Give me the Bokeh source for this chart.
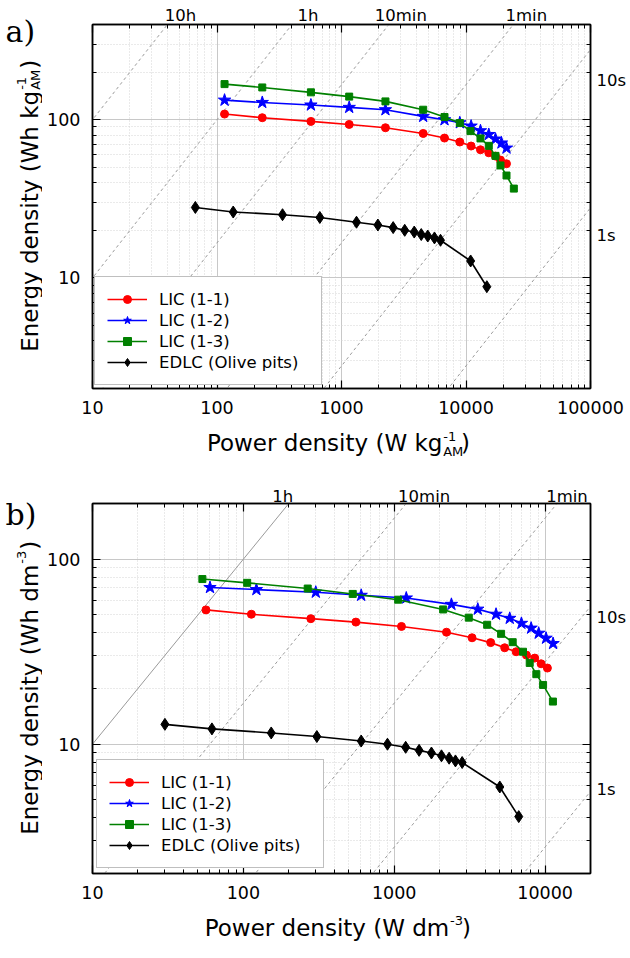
import math
from bokeh.plotting import figure
from bokeh.models import LogAxis, FixedTicker, Range1d, CustomJSTickFormatter
from bokeh.layouts import column, row
from bokeh.embed import file_html
from bokeh.resources import INLINE
from bokeh.core.properties import value

# ---------------- data : panel a (per mass of active material) ----------------
a_lic11_p = [115, 231, 568, 1153, 2254, 4530, 6720, 8920, 10990, 13070, 15240, 17250, 18920, 21150]
a_lic11_e = [108.6, 103, 97.6, 93.4, 89, 81.9, 76.6, 72.3, 68.2, 64.6, 61.8, 58.9, 55.6, 52.7]
a_lic12_p = [115, 231, 568, 1153, 2254, 4530, 6720, 8920, 10990, 13070, 15240, 17250, 19270, 21150]
a_lic12_e = [133, 128.6, 123.9, 119.7, 115.7, 105, 100, 95.7, 91.2, 85.2, 80.7, 75.5, 71.3, 66.2]
a_lic13_p = [115, 231, 568, 1153, 2254, 4530, 6720, 8920, 10870, 13070, 15240, 17250, 18920, 21150, 24220]
a_lic13_e = [168, 160, 149, 140, 130.6, 115.7, 104, 95.3, 84.8, 76.2, 68.4, 59.1, 51.4, 44.4, 36.7]
a_edlc_p = [67, 135, 336, 670, 1320, 1960, 2600, 3220, 3840, 4370, 4930, 5580, 6240, 10900, 14700]
a_edlc_e = [27.9, 26.1, 25.1, 24.1, 22.5, 21.6, 20.8, 20.0, 19.5, 18.8, 18.4, 17.9, 17.3, 12.8, 8.8]

# ---------------- data : panel b (per volume) ----------------
b_lic11_p = [56.5, 113, 280, 557, 1117, 2220, 3280, 4360, 5400, 6430, 7520, 8540, 9410, 10360]
b_lic11_e = [53.2, 50.4, 47.7, 45.7, 43.3, 40.3, 37.6, 35.4, 33.2, 31.6, 30.3, 29.2, 27.2, 25.8]
b_lic12_p = [60.1, 122, 302, 604, 1202, 2394, 3580, 4730, 5830, 6970, 8080, 9070, 10150, 11300]
b_lic12_e = [70.3, 68.5, 66.3, 63.8, 61.7, 57.0, 53.7, 50.4, 47.9, 45.0, 42.4, 39.8, 37.4, 35.0]
b_lic13_p = [53.5, 106, 267, 531, 1062, 2110, 3120, 4130, 5110, 6100, 7140, 7910, 8750, 9700, 11270]
b_lic13_e = [78.1, 74.5, 69.4, 64.9, 60.4, 53.5, 48.3, 44.2, 39.5, 35.6, 31.6, 27.5, 23.9, 20.9, 17.0]
b_edlc_p = [30.2, 61.9, 153, 307, 604, 902, 1191, 1462, 1765, 2057, 2312, 2546, 2820, 5010, 6690]
b_edlc_e = [12.8, 12.1, 11.5, 11.0, 10.4, 10.0, 9.62, 9.26, 8.96, 8.65, 8.40, 8.12, 7.96, 5.87, 4.06]

series_names = ["LIC (1-1)", "LIC (1-2)", "LIC (1-3)", "EDLC (Olive pits)"]
series_colors = ["#ff0000", "#0000ff", "#008000", "#000000"]
series_markers = ["circle", "star", "square", "diamond"]
series_sizes = [8, 13, 7, 12]

# constant-discharge-time lines (hours) and their labels
a_times = [10, 1, 1/6, 1/60, 1/360, 1/3600]
a_time_dash = ["3 3", "3 3", "3 3", "3 3", "3 3", "3 3"]
a_top_times = [10, 1, 1/6, 1/60]
a_top_text = ["10h", "1h", "10min", "1min"]
a_top_dx = [13, 16, 12, 13]
a_right_times = [1/360, 1/3600]
a_right_text = ["10s", "1s"]
a_right_dy = [-31, -28]

b_times = [1, 1/6, 1/60, 1/360, 1/3600]
b_time_dash = ["solid", "3 3", "3 3", "3 3", "3 3"]
b_top_times = [1, 1/6, 1/60]
b_top_text = ["1h", "10min", "1min"]
b_top_dx = [-6, 18, 10]
b_right_times = [1/360, 1/3600]
b_right_text = ["10s", "1s"]
b_right_dy = [-11, 2]

FONT = "DejaVu Sans"
TITLE_SIZE = 23
SUB_SIZE = 13
DJ = {' ': 318, '(': 390, ')': 390, '-': 361, '0': 636, '1': 636, '2': 636, '3': 636,
      'A': 684, 'M': 863, 'E': 632, 'P': 603, 'W': 989, 'a': 613, 'd': 635, 'e': 615,
      'g': 635, 'h': 634, 'i': 278, 'k': 579, 'm': 974, 'n': 634, 'o': 612, 'r': 411,
      's': 521, 't': 392, 'w': 818, 'y': 592}

LEFT_W = 42          # width of the strip holding panel letter + y title
M_LEFT, M_RIGHT, FRAME_W = 50, 40, 498


def text_w(s, size):
    return sum(DJ.get(c, 600) for c in s) * size / 1000.0


def decades(lo, hi):
    majors = [10.0 ** k for k in range(lo, hi + 1)]
    minors = [m * 10.0 ** k for k in range(lo, hi + 1) for m in range(2, 10)]
    return FixedTicker(ticks=majors, minor_ticks=minors)


def style_axis(ax, mode):
    ax.axis_line_color = "black"
    ax.axis_line_width = 1.5
    ax.major_tick_line_color = "black"
    ax.minor_tick_line_color = "black"
    ax.major_tick_line_width = 1.2
    ax.minor_tick_line_width = 1
    ax.major_tick_in = 8
    ax.major_tick_out = 0
    ax.minor_tick_in = 4
    ax.minor_tick_out = 0
    if mode in ("x", "y"):
        ax.major_label_standoff = 12
        ax.major_label_text_font = FONT
        ax.major_label_text_font_size = "17.5px"
        ax.major_label_text_color = "black"
        ax.formatter = CustomJSTickFormatter(code="return tick.toFixed(0)")
    else:
        ax.major_label_text_font_size = "0px"
        ax.major_label_standoff = 0
        ax.formatter = CustomJSTickFormatter(code="return ''")


def label_axis(positions, texts, standoff):
    pairs = sorted(zip(positions, texts))
    ax = LogAxis(ticker=FixedTicker(ticks=[q for q, _ in pairs], minor_ticks=[]),
                 formatter=CustomJSTickFormatter(args=dict(labels=[s for _, s in pairs]),
                                                 code="return labels[index]"))
    ax.axis_line_color = None
    ax.major_tick_line_color = None
    ax.minor_tick_line_color = None
    ax.major_tick_in = 0
    ax.major_tick_out = 0
    ax.minor_tick_in = 0
    ax.minor_tick_out = 0
    ax.major_label_standoff = standoff
    ax.major_label_text_font = FONT
    ax.major_label_text_font_size = "16.5px"
    ax.major_label_text_color = "black"
    return ax


def strip(w, h):
    s = figure(width=w, height=h, x_range=Range1d(0, w), y_range=Range1d(0, h),
               min_border=0, x_axis_location=None, y_axis_location=None,
               output_backend="svg", toolbar_location=None)
    s.xgrid.visible = False
    s.ygrid.visible = False
    s.outline_line_color = None
    s.background_fill_color = "white"
    s.border_fill_color = "white"
    return s


def stext(s, h, x, y_top, txt, size, font=FONT, angle=0, align="left", baseline="alphabetic"):
    # y_top is measured downward from the strip's top edge
    s.text(x=[x], y=[h - y_top], text=[txt], angle=angle, text_font=value(font),
           text_font_size=value("%gpx" % size), text_align=value(align),
           text_baseline=value(baseline), text_color="black")


def make_main(xr, yr, frame_h, top_b, bot_b, px_list, ey_list, times, dashes,
              top_times, top_text, top_dx, top_standoff,
              right_times, right_text, right_dy, legend_loc):
    p = figure(x_axis_type="log", y_axis_type="log",
               x_range=Range1d(*xr), y_range=Range1d(*yr),
               frame_width=FRAME_W, frame_height=frame_h,
               min_border_left=M_LEFT, min_border_right=M_RIGHT,
               min_border_top=top_b, min_border_bottom=bot_b,
               output_backend="svg", toolbar_location=None)
    p.background_fill_color = "white"
    p.border_fill_color = "white"
    p.outline_line_color = "black"
    p.outline_line_width = 1.5

    xt = decades(int(round(math.log10(xr[0]))), int(math.ceil(math.log10(xr[1]))))
    yt = decades(0, int(math.ceil(math.log10(yr[1]))))
    p.xaxis.ticker = xt
    p.yaxis.ticker = yt
    style_axis(p.xaxis[0], "x")
    style_axis(p.yaxis[0], "y")
    top_ax = LogAxis(ticker=xt)
    right_ax = LogAxis(ticker=yt)
    style_axis(top_ax, "hidden")
    style_axis(right_ax, "hidden")
    p.add_layout(top_ax, "above")
    p.add_layout(right_ax, "right")

    for g, t in ((p.xgrid[0], xt), (p.ygrid[0], yt)):
        g.ticker = t
        g.grid_line_color = "#c8c8c8"
        g.grid_line_width = 1
        g.minor_grid_line_color = "#d4d4d4"
        g.minor_grid_line_dash = "1 2"

    # pixel scale of the frame, used to nudge the time labels
    px_dec_x = FRAME_W / (math.log10(xr[1]) - math.log10(xr[0]))
    px_dec_y = frame_h / (math.log10(yr[1]) - math.log10(yr[0]))

    # constant discharge-time lines: E = P * t
    for t, d in zip(times, dashes):
        xs = [xr[0] / 10.0, xr[1] * 10.0]
        ys = [x * t for x in xs]
        p.line(xs, ys, line_color="#9a9a9a", line_width=1, line_dash=d)

    # data series
    for xs, ys, name, col, mk, sz in zip(px_list, ey_list, series_names, series_colors,
                                          series_markers, series_sizes):
        p.line(xs, ys, line_color=col, line_width=1.6, legend_label=name)
        p.scatter(xs, ys, marker=mk, size=sz, fill_color=col, line_color=col,
                  legend_label=name)

    leg = p.legend[0]
    leg.location = legend_loc
    leg.label_text_font = FONT
    leg.label_text_font_size = "16.5px"
    leg.label_text_color = "black"
    leg.glyph_width = 40
    leg.glyph_height = 20
    leg.label_standoff = 12
    leg.padding = 12
    leg.spacing = 1
    leg.label_height = 20
    leg.label_width = 150
    leg.margin = 0
    leg.border_line_color = "#808080"
    leg.border_line_width = 1
    leg.background_fill_alpha = 1

    # time labels (top: where each line leaves the top edge; right: where it leaves the right edge)
    top_pos = [yr[1] / t * 10 ** (dx / px_dec_x) for t, dx in zip(top_times, top_dx)]
    p.add_layout(label_axis(top_pos, top_text, top_standoff), "above")
    right_pos = [xr[1] * t * 10 ** (dy / px_dec_y) for t, dy in zip(right_times, right_dy)]
    p.add_layout(label_axis(right_pos, right_text, 6), "right")
    return p


def make_bottom_strip(h, baseline, unit, sub, sup):
    w = M_LEFT + FRAME_W + M_RIGHT
    s = strip(w, h)
    xc = M_LEFT + FRAME_W / 2.0 + 11
    main = "Power density (W " + unit
    wm = text_w(main, TITLE_SIZE)
    ws = max(text_w(sub, SUB_SIZE), text_w(sup, SUB_SIZE))
    total = wm + ws + 1 + text_w(")", TITLE_SIZE)
    anchor = xc - total / 2.0 + wm          # end of the main part
    stext(s, h, anchor, baseline, main, TITLE_SIZE, align="right")
    if sub:
        stext(s, h, anchor + 1, baseline + 8, sub, SUB_SIZE)
    stext(s, h, anchor + 1, baseline - 7, sup, SUB_SIZE)
    stext(s, h, anchor + ws + 2, baseline, ")", TITLE_SIZE)
    return s


def make_left_strip(h, letter, letter_y, center_y, unit, sub, sup):
    s = strip(LEFT_W, h)
    stext(s, h, 5, letter_y, letter, 30, font="DejaVu Serif", baseline="middle")
    main = "Energy density (Wh " + unit
    wm = text_w(main, TITLE_SIZE)
    ws = max(text_w(sub, SUB_SIZE), text_w(sup, SUB_SIZE))
    total = wm + ws + 1 + text_w(")", TITLE_SIZE)
    anchor = center_y + total / 2.0 - wm     # upper end of the main part
    bx = 29
    rot = math.pi / 2
    stext(s, h, bx, anchor, main, TITLE_SIZE, angle=rot, align="right")
    if sub:
        stext(s, h, bx + 6, anchor - 1, sub, SUB_SIZE, angle=rot)
    stext(s, h, bx - 8, anchor - 1, sup, SUB_SIZE, angle=rot)
    stext(s, h, bx, anchor - ws - 2, ")", TITLE_SIZE, angle=rot)
    return s


# ---------------- panel a ----------------
A_TOP, A_FRAME, A_BOT = 24, 364, 36
A_STRIP = 470 - (A_TOP + A_FRAME + A_BOT)
ma = make_main((10, 100000), (2, 400), A_FRAME, A_TOP, A_BOT,
               [a_lic11_p, a_lic12_p, a_lic13_p, a_edlc_p],
               [a_lic11_e, a_lic12_e, a_lic13_e, a_edlc_e],
               a_times, a_time_dash, a_top_times, a_top_text, a_top_dx, 0,
               a_right_times, a_right_text, a_right_dy, (2, 3))
ba = make_bottom_strip(A_STRIP, 18.5, "kg", "AM", "-1")
ha = A_TOP + A_FRAME + A_BOT + A_STRIP
la = make_left_strip(ha, "a)", 31, A_TOP + A_FRAME / 2.0, "kg", "AM", "-1")
panel_a = row(la, column(ma, ba, spacing=0), spacing=0)

# ---------------- panel b ----------------
B_TOP, B_FRAME, B_BOT = 33, 370, 36
B_STRIP = 488 - (B_TOP + B_FRAME + B_BOT)
mb = make_main((10, 20000), (2, 200), B_FRAME, B_TOP, B_BOT,
               [b_lic11_p, b_lic12_p, b_lic13_p, b_edlc_p],
               [b_lic11_e, b_lic12_e, b_lic13_e, b_edlc_e],
               b_times, b_time_dash, b_top_times, b_top_text, b_top_dx, -2,
               b_right_times, b_right_text, b_right_dy, (4, 5))
bb = make_bottom_strip(B_STRIP, 18, "dm", "", "-3")
hb = B_TOP + B_FRAME + B_BOT + B_STRIP
lb = make_left_strip(hb, "b)", 514 - ha, B_TOP + B_FRAME / 2.0, "dm", "", "-3")
panel_b = row(lb, column(mb, bb, spacing=0), spacing=0)

layout = column(panel_a, panel_b, spacing=0)
open("out.html", "w").write(file_html(layout, INLINE))
